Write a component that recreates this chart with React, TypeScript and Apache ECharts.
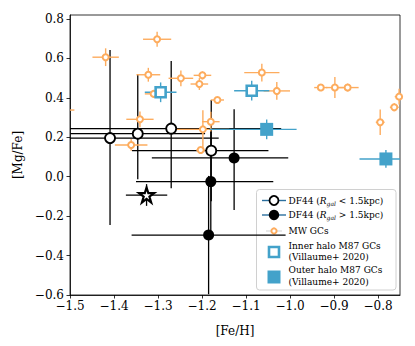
import React, { useEffect, useRef } from "react";
import * as echarts from "echarts";

// DF44 GCs, R_gal < 1.5 kpc (open circles)
const df44InX = [-1.409, -1.346, -1.27, -1.179];
const df44InY = [0.196, 0.218, 0.244, 0.132];
const df44InXErrLo = [0.247, 0.153, 0.25, 0.18];
const df44InXErrHi = [0.247, 0.153, 0.25, 0.13];
const df44InYErrLo = [0.441, 0.231, 0.303, 0.257];
const df44InYErrHi = [0.447, 0.303, 0.343, 0.257];

// DF44 GCs, R_gal > 1.5 kpc (filled circles)
const df44OutX = [-1.127, -1.18, -1.185];
const df44OutY = [0.095, -0.025, -0.296];
const df44OutXErrLo = [0.187, 0.17, 0.175];
const df44OutXErrHi = [0.123, 0.142, 0.175];
const df44OutYErrLo = [0.264, 0.27, 0.3];
const df44OutYErrHi = [0.247, 0.27, 0.3];

// DF44 stacked (star)
const starX = [-1.326];
const starY = [-0.093];
const starXErr = [0.047];
const starYErr = [0.055];

// Milky Way GCs
const mwX = [-1.52, -1.419, -1.302, -1.322, -1.248, -1.199, -1.206, -1.31, -1.064, -1.03, -0.93, -0.898, -0.869, -0.795, -0.763, -0.752, -1.165, -1.18, -1.198, -1.203, -1.361, -1.341];
const mwY = [0.338, 0.606, 0.697, 0.517, 0.499, 0.514, 0.47, 0.42, 0.528, 0.435, 0.452, 0.452, 0.452, 0.276, 0.352, 0.406, 0.389, 0.279, 0.24, 0.135, 0.161, 0.291];
const mwXErr = [0.03, 0.03, 0.032, 0.027, 0.028, 0.02, 0.02, 0.02, 0.04, 0.03, 0.015, 0.02, 0.025, 0.01, 0.01, 0.01, 0.015, 0.02, 0.06, 0.01, 0.037, 0.031];
const mwYErr = [0.02, 0.045, 0.038, 0.035, 0.04, 0.02, 0.03, 0.02, 0.045, 0.045, 0.015, 0.053, 0.02, 0.065, 0.02, 0.04, 0.015, 0.05, 0.097, 0.01, 0.03, 0.04];

// M87 inner halo GCs (Villaume+ 2020)
const m87InX = [-1.294, -1.087];
const m87InY = [0.428, 0.436];
const m87InXErr = [0.036, 0.04];
const m87InYErr = [0.05, 0.05];

// M87 outer halo GCs (Villaume+ 2020)
const m87OutX = [-1.053, -0.782];
const m87OutY = [0.24, 0.09];
const m87OutXErrLo = [0.13, 0.06];
const m87OutXErrHi = [0.068, 0.06];
const m87OutYErr = [0.05, 0.045];

const xTicks = [-1.5, -1.4, -1.3, -1.2, -1.1, -1.0, -0.9, -0.8];
const yTicks = [-0.6, -0.4, -0.2, 0.0, 0.2, 0.4, 0.6, 0.8];

const ORANGE = "#fdac5e";
const BLUE = "#43a2ca";
const FONT = "DejaVu Serif";

const fmt = (v: number) => (v < -1e-9 ? "\u2212" : "") + Math.abs(v).toFixed(1);

function errRows(x: number[], y: number[], xl: number[], xh: number[], yl: number[], yh: number[]) {
  return x.map((v, i) => [v, y[i], xl[i], xh[i], yl[i], yh[i]]);
}

function errSeries(data: number[][], color: string, width: number) {
  return {
    type: "custom",
    clip: true,
    data,
    encode: { x: 0, y: 1 },
    silent: true,
    renderItem: (params: any, api: any) => {
      const x = api.value(0);
      const y = api.value(1);
      const a = api.coord([x - api.value(2), y]);
      const b = api.coord([x + api.value(3), y]);
      const c = api.coord([x, y - api.value(4)]);
      const d = api.coord([x, y + api.value(5)]);
      return {
        type: "group",
        children: [
          { type: "line", shape: { x1: a[0], y1: a[1], x2: b[0], y2: b[1] }, style: { stroke: color, lineWidth: width } },
          { type: "line", shape: { x1: c[0], y1: c[1], x2: d[0], y2: d[1] }, style: { stroke: color, lineWidth: width } },
        ],
      };
    },
  };
}

const STAR = "path://M50,0 L61.8,35.4 L100,35.4 L69.1,57.3 L80.9,95.1 L50,72.4 L19.1,95.1 L30.9,57.3 L0,35.4 L38.2,35.4 Z";

export default function App() {
  const ref = useRef<HTMLDivElement>(null);
  useEffect(() => {
    if (!ref.current) return;
    const chart = echarts.init(ref.current, undefined, { renderer: "svg" });
    const pts = (x: number[], y: number[]) => x.map((v, i) => [v, y[i]]);
    const lx = 274;
    const tx = 288.5;
    const textStyle = { fontFamily: FONT, fontSize: 9, fill: "#000" };
    const rich = {
      i: { fontFamily: FONT, fontSize: 9, fontStyle: "italic" },
      s: { fontFamily: FONT, fontSize: 6, fontStyle: "italic", padding: [5, 0, 0, 0] },
    };
    const option: any = {
      animation: false,
      backgroundColor: "#fff",
      grid: { left: 70, right: 15, top: 15, bottom: 51, show: true, borderColor: "#000", borderWidth: 0.8 },
      xAxis: {
        type: "value",
        min: -1.5,
        max: -0.75,
        interval: 0.1,
        name: "[Fe/H]",
        nameLocation: "middle",
        nameGap: 30,
        nameTextStyle: { fontFamily: FONT, fontSize: 12, color: "#000" },
        axisLine: { show: true, onZero: false, lineStyle: { color: "#000", width: 0.8 } },
        axisTick: { show: true, length: 3.5, lineStyle: { color: "#000", width: 0.8 }, customValues: xTicks },
        axisLabel: { fontFamily: FONT, fontSize: 12, color: "#000", margin: 5, formatter: fmt, customValues: xTicks },
        splitLine: { show: false },
      },
      yAxis: {
        type: "value",
        min: -0.6,
        max: 0.82,
        name: "[Mg/Fe]",
        nameLocation: "middle",
        nameGap: 46,
        nameTextStyle: { fontFamily: FONT, fontSize: 12, color: "#000" },
        axisLine: { show: true, onZero: false, lineStyle: { color: "#000", width: 0.8 } },
        axisTick: { show: true, length: 3.5, lineStyle: { color: "#000", width: 0.8 }, customValues: yTicks },
        axisLabel: { fontFamily: FONT, fontSize: 12, color: "#000", margin: 6, formatter: fmt, customValues: yTicks },
        splitLine: { show: false },
      },
      series: [
        errSeries(errRows(df44InX, df44InY, df44InXErrLo, df44InXErrHi, df44InYErrLo, df44InYErrHi), "#000", 1.3),
        errSeries(errRows(df44OutX, df44OutY, df44OutXErrLo, df44OutXErrHi, df44OutYErrLo, df44OutYErrHi), "#000", 1.3),
        errSeries(errRows(starX, starY, starXErr, starXErr, starYErr, starYErr), "#000", 1.3),
        {
          type: "scatter",
          data: pts(df44InX, df44InY),
          symbol: "circle",
          symbolSize: 10,
          itemStyle: { color: "#fff", borderColor: "#000", borderWidth: 1.8, opacity: 1 },
        },
        {
          type: "scatter",
          data: pts(df44OutX, df44OutY),
          symbol: "circle",
          symbolSize: 11,
          itemStyle: { color: "#000", borderColor: "#000", borderWidth: 0, opacity: 1 },
        },
        {
          type: "scatter",
          data: pts(starX, starY),
          symbol: STAR,
          symbolSize: 15,
          itemStyle: { color: "#fff", borderColor: "#000", borderWidth: 2.2, opacity: 1 },
        },
        errSeries(errRows(mwX, mwY, mwXErr, mwXErr, mwYErr, mwYErr), ORANGE, 1.4),
        {
          type: "scatter",
          data: pts(mwX, mwY),
          symbol: "circle",
          symbolSize: 6,
          itemStyle: { color: "#fff", borderColor: ORANGE, borderWidth: 2, opacity: 1 },
        },
        errSeries(errRows(m87InX, m87InY, m87InXErr, m87InXErr, m87InYErr, m87InYErr), BLUE, 1.4),
        errSeries(errRows(m87OutX, m87OutY, m87OutXErrLo, m87OutXErrHi, m87OutYErr, m87OutYErr), BLUE, 1.4),
        {
          type: "scatter",
          data: pts(m87InX, m87InY),
          symbol: "rect",
          symbolSize: 10,
          itemStyle: { color: "#fff", borderColor: BLUE, borderWidth: 2.6, opacity: 1 },
        },
        {
          type: "scatter",
          data: pts(m87OutX, m87OutY),
          symbol: "rect",
          symbolSize: 13,
          itemStyle: { color: BLUE, opacity: 1 },
        },
      ],
      graphic: [
        {
          type: "group",
          z: 100,
          children: [
            { type: "rect", shape: { x: 256.5, y: 189.5, width: 139.5, height: 100.5, r: 3 }, style: { fill: "rgba(255,255,255,0.85)", stroke: "#d0d0d0", lineWidth: 1 } },
            { type: "line", shape: { x1: 262, y1: 200.5, x2: 286, y2: 200.5 }, style: { stroke: "#2b6f9e", lineWidth: 1.4 } },
            { type: "circle", shape: { cx: lx, cy: 200.5, r: 4.5 }, style: { fill: "#fff", stroke: "#000", lineWidth: 1.8 } },
            { type: "text", x: tx, y: 200.5, style: { ...textStyle, text: "DF44 ({i|R}{s|gal} < 1.5kpc)", verticalAlign: "middle", rich } },
            { type: "line", shape: { x1: 262, y1: 215, x2: 286, y2: 215 }, style: { stroke: "#2b6f9e", lineWidth: 1.4 } },
            { type: "circle", shape: { cx: lx, cy: 215, r: 5.2 }, style: { fill: "#000" } },
            { type: "text", x: tx, y: 215, style: { ...textStyle, text: "DF44 ({i|R}{s|gal} > 1.5kpc)", verticalAlign: "middle", rich } },
            { type: "line", shape: { x1: 266, y1: 231, x2: 282, y2: 231 }, style: { stroke: "#c8c8c8", lineWidth: 0.8 } },
            { type: "circle", shape: { cx: lx, cy: 231, r: 2.6 }, style: { fill: "#fff", stroke: ORANGE, lineWidth: 2 } },
            { type: "text", x: tx, y: 231, style: { ...textStyle, text: "MW GCs", verticalAlign: "middle" } },
            { type: "rect", shape: { x: lx - 5, y: 252 - 5, width: 10, height: 10 }, style: { fill: "#fff", stroke: BLUE, lineWidth: 2.6 } },
            { type: "text", x: tx, y: 245.5, style: { ...textStyle, text: "Inner halo M87 GCs", verticalAlign: "middle" } },
            { type: "text", x: tx, y: 257, style: { ...textStyle, text: "(Villaume+ 2020)", verticalAlign: "middle" } },
            { type: "rect", shape: { x: lx - 6.5, y: 277 - 6.5, width: 13, height: 13 }, style: { fill: BLUE } },
            { type: "text", x: tx, y: 270, style: { ...textStyle, text: "Outer halo M87 GCs", verticalAlign: "middle" } },
            { type: "text", x: tx, y: 282, style: { ...textStyle, text: "(Villaume+ 2020)", verticalAlign: "middle" } },
          ],
        },
      ],
    };
    chart.setOption(option);
    return () => chart.dispose();
  }, []);
  return <div ref={ref} style={{ position: "absolute", left: 0, top: 0, width: 415, height: 346 }} />;
}
